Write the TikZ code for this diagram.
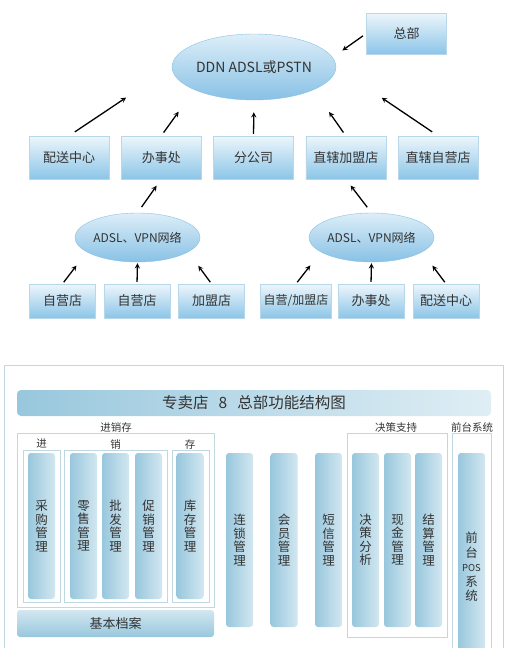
\documentclass[tikz,border=0pt]{standalone}
\usepackage{fontspec}
\setmainfont{Noto Sans CJK SC}
\usepackage{xcolor}
\usepackage{tikz}
\usetikzlibrary{shapes.geometric, arrows}
\definecolor{txt}{HTML}{333333}
\definecolor{sitetop}{HTML}{EDF6FB}
\definecolor{sitebot}{HTML}{8CC5E8}
\definecolor{siteedge}{HTML}{B8D8EA}
\definecolor{nettop}{HTML}{DDEEF8}
\definecolor{netbot}{HTML}{88C1E5}
\definecolor{modleft}{HTML}{98C7DD}
\definecolor{modright}{HTML}{D2E7F0}
\definecolor{frameline}{HTML}{C0D8E2}
\tikzstyle{site} = [rectangle, minimum width=80pt, minimum height=43pt, text centered, draw=siteedge, top color=sitetop, bottom color=sitebot, text=txt, font=\fontsize{13}{15}\selectfont]
\tikzstyle{shop} = [site, minimum width=66pt, minimum height=34pt]
\tikzstyle{net} = [ellipse, inner sep=0pt, draw=netbot, top color=nettop, bottom color=netbot, text=txt]
\tikzstyle{module} = [rectangle, rounded corners=3pt, minimum width=27pt, inner sep=0pt, align=center, left color=modleft, right color=modright, text=txt, font=\fontsize{12.5}{13.5}\selectfont]
\tikzstyle{frame} = [draw=frameline, line width=0.9pt]
\tikzstyle{tag} = [text=txt, font=\fontsize{10.5}{12}\selectfont]
\tikzstyle{arrow} = [line width=1.3pt,->,>=stealth]

\begin{document}
\begin{tikzpicture}[x=1pt, y=-1pt, node distance=92.25pt]
\useasboundingbox (0,0) rectangle (518,648);

% network part
\node (ddn) [net, minimum width=149pt, minimum height=66pt, font=\fontsize{14}{16}\selectfont] at (254,67) {DDN ADSL或PSTN};
\node (zongbu) [site, minimum height=41pt] at (406.5,33.5) {总部};

\node (peisong) [site] at (69,157.5) {配送中心};
\node (banshi) [site, right of=peisong] {办事处};
\node (fengs) [site, right of=banshi] {分公司};
\node (zhijia) [site, right of=fengs] {直辖加盟店};
\node (zhiying) [site, right of=zhijia] {直辖自营店};

\node (netl) [net, minimum width=111pt, minimum height=49pt, font=\fontsize{12}{14}\selectfont] at (137.5,237.5) {ADSL、VPN网络};
\node (netr) [net, minimum width=111pt, minimum height=49pt, font=\fontsize{12}{14}\selectfont] at (371.5,237.5) {ADSL、VPN网络};

\node (ziying1) [shop] at (62.5,301) {自营店};
\node (ziying2) [shop, node distance=74.5pt, right of=ziying1] {自营店};
\node (jiameng) [shop, node distance=74.5pt, right of=ziying2] {加盟店};
\node (zyjm) [shop, font=\fontsize{12}{14}\selectfont] at (296,301) {自营/加盟店};
\node (banshi2) [shop, node distance=75pt, right of=zyjm] {办事处};
\node (peisong2) [shop, node distance=75pt, right of=banshi2] {配送中心};

\draw [arrow, shorten <=4pt, shorten >=12pt] (zongbu.west) -- (ddn.7);
\draw [arrow, shorten <=7pt, shorten >=55pt] (peisong.north) -- (ddn.west);
\draw [arrow, shorten <=4pt, shorten >=27pt] (banshi.north) -- (ddn.201);
\draw [arrow, shorten <=2pt, shorten >=12pt] (fengs.north) -- (ddn.south);
\draw [arrow, shorten <=4pt, shorten >=27pt] (zhijia.north) -- (ddn.339);
\draw [arrow, shorten <=7pt, shorten >=55pt] (zhiying.north) -- (ddn.east);

\draw [arrow, shorten <=7pt, shorten >=8pt] (netl.north) -- (banshi.south);
\draw [arrow, shorten <=7pt, shorten >=8pt] (netr.north) -- (zhijia.south);

\draw [arrow, shorten <=2pt, shorten >=17pt] (ziying1.north) -- (netl.196);
\draw [arrow, shorten <=2pt, shorten >=1pt] (ziying2.north) -- (netl.south);
\draw [arrow, shorten <=2pt, shorten >=17pt] (jiameng.north) -- (netl.344);
\draw [arrow, shorten <=2pt, shorten >=17pt] (zyjm.north) -- (netr.196);
\draw [arrow, shorten <=2pt, shorten >=1pt] (banshi2.north) -- (netr.south);
\draw [arrow, shorten <=2pt, shorten >=17pt] (peisong2.north) -- (netr.344);

% function chart
\draw [frame] (4,700) -- (4,365) -- (503,365) -- (503,700);
\node (title) [rectangle, rounded corners=4pt, minimum width=474pt, minimum height=26pt, left color=modleft, right color=modright!70!white, text=txt, font=\fontsize{15.5}{18}\selectfont] at (254,403) {专卖店\hspace{10pt}8\hspace{10pt}总部功能结构图};

\draw [frame] (17,433) rectangle (214,607);
\draw [frame] (23,450) rectangle (60,602);
\draw [frame] (64,450) rectangle (167,602);
\draw [frame] (172,450) rectangle (209,602);
\draw [frame] (347,433) rectangle (447,637);
\draw [frame] (452,433) rectangle (491,700);

\node (jxc) [tag] at (116,427) {进销存};
\node (jin) [tag] at (41.5,444) {进};
\node (xiao) [tag] at (115.5,444) {销};
\node (cun) [tag] at (190,444) {存};
\node (juece) [tag] at (396,427) {决策支持};
\node (qiantai) [tag] at (472,427) {前台系统};

\node (caigou) [module, minimum height=146pt] at (41.5,526) {采\\购\\管\\理};
\node (lingshou) [module, minimum height=146pt] at (83.5,526) {零\\售\\管\\理};
\node (pifa) [module, minimum height=146pt] at (115.5,526) {批\\发\\管\\理};
\node (cuxiao) [module, minimum height=146pt] at (148.5,526) {促\\销\\管\\理};
\node (kucun) [module, minimum height=146pt] at (190,526) {库\\存\\管\\理};
\node (dangan) [rectangle, rounded corners=3pt, minimum width=197pt, minimum height=27pt, top color=modright, bottom color=modleft, text=txt, font=\fontsize{13}{15}\selectfont] at (115.5,623.5) {基本档案};

\node (liansuo) [module, minimum height=174pt] at (239.5,540) {连\\锁\\管\\理};
\node (huiyuan) [module, minimum height=174pt] at (284,540) {会\\员\\管\\理};
\node (duanxin) [module, minimum height=174pt] at (328.5,540) {短\\信\\管\\理};
\node (fenxi) [module, minimum height=174pt] at (365.5,540) {决\\策\\分\\析};
\node (xianjin) [module, minimum height=174pt] at (397.5,540) {现\\金\\管\\理};
\node (jiesuan) [module, minimum height=174pt] at (428.5,540) {结\\算\\管\\理};
\node (pos) [module, minimum height=228pt, font=\fontsize{12.5}{14.5}\selectfont] at (471.5,567) {前\\台\\{\fontsize{9.5}{11}\selectfont POS}\\系\\统};

\end{tikzpicture}
\end{document}
